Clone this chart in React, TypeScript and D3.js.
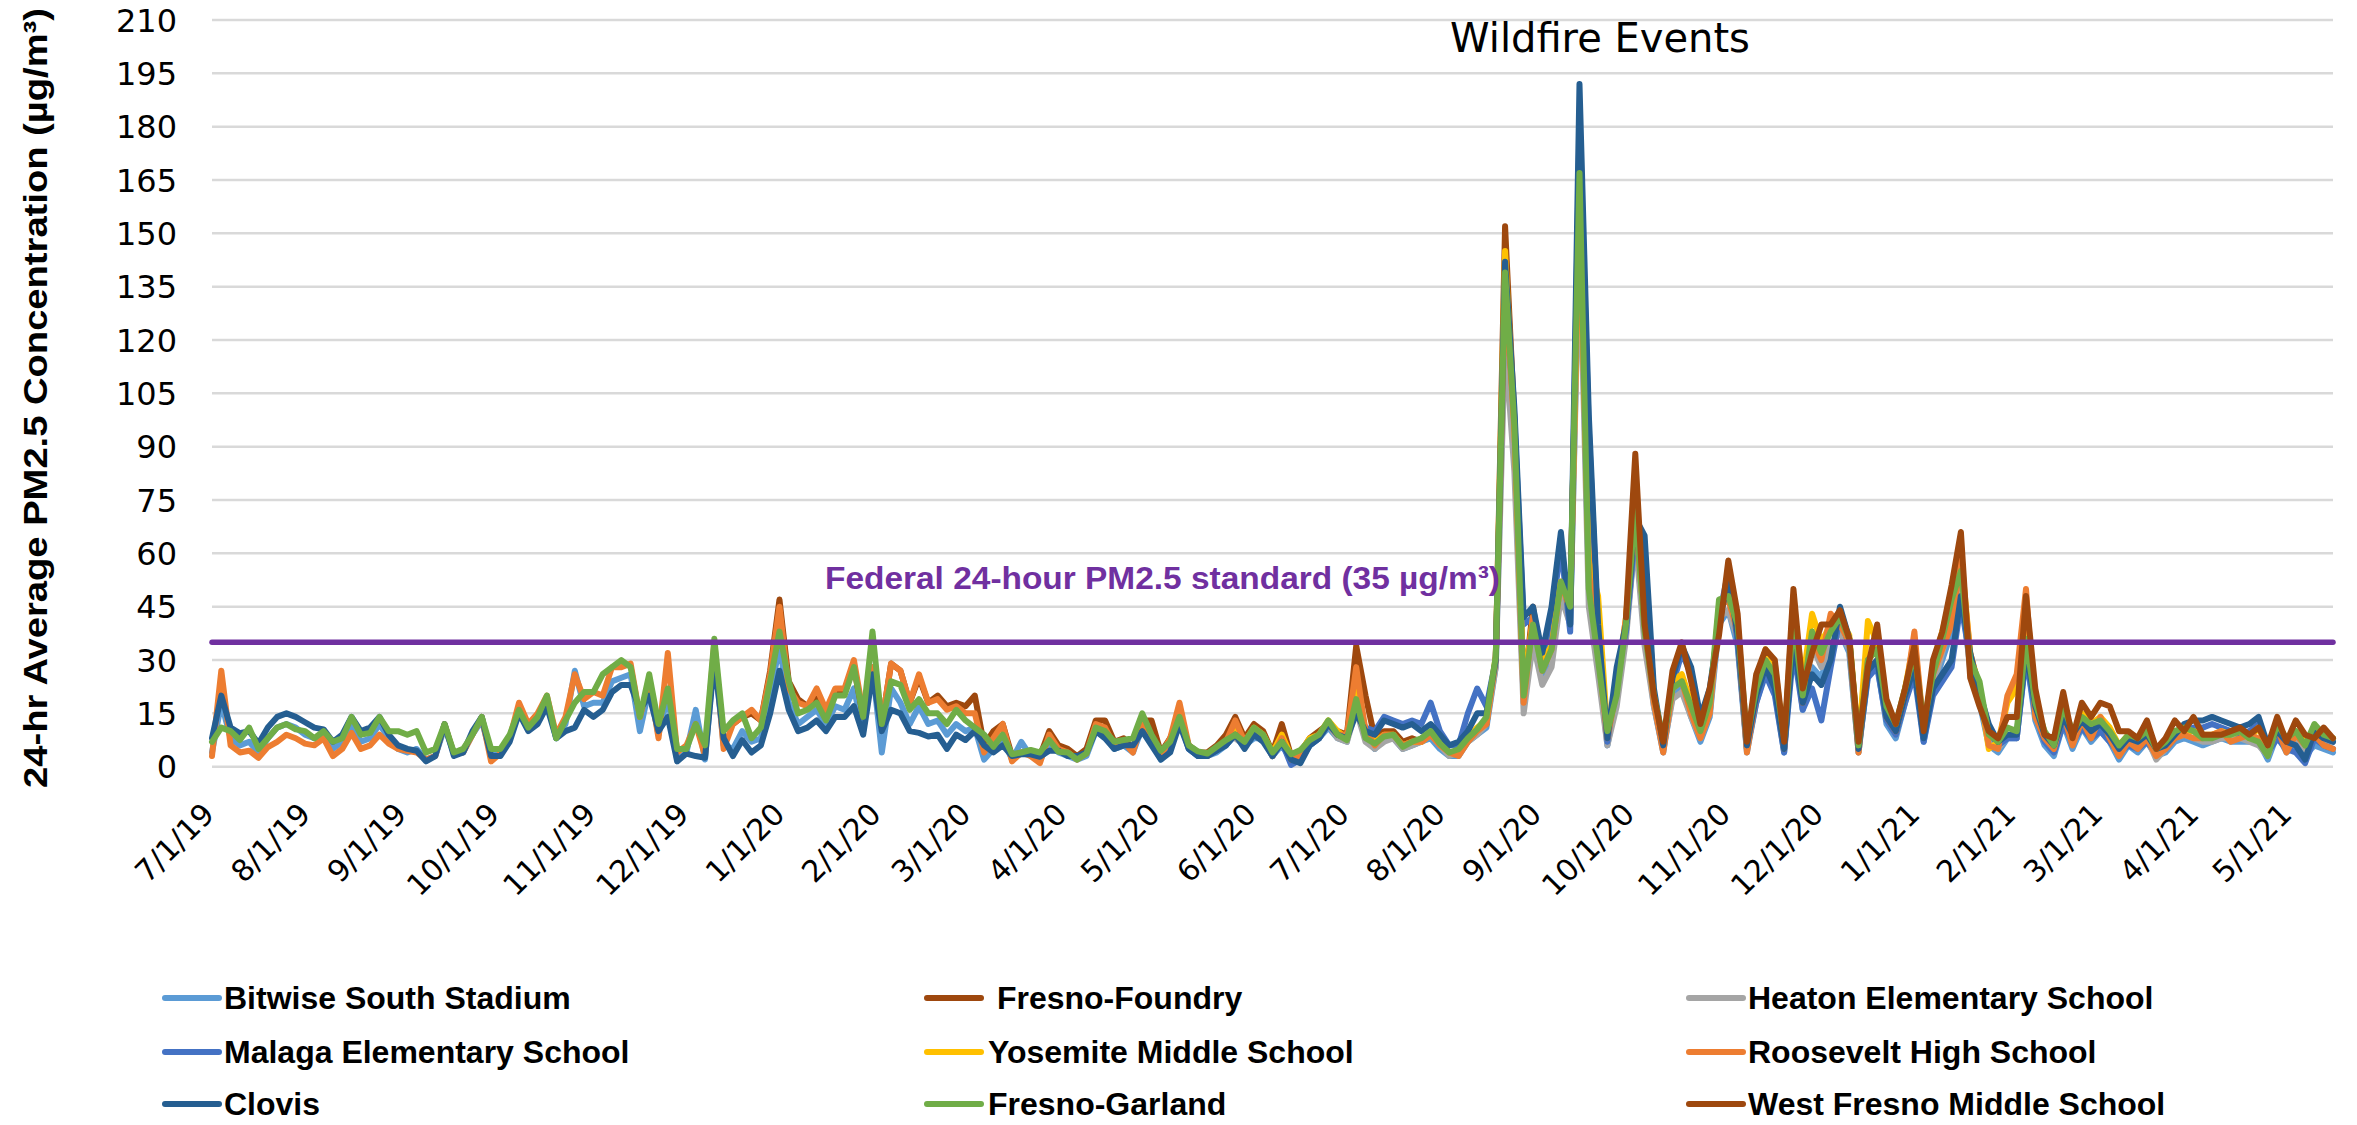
import React from 'react';
import * as d3 from 'd3';

const W = 2357;
const H = 1125;

// ---------------- data ----------------
const START_DATE = '7/1/19';
const STEP_DAYS = 3;
const LAST_DAY = 684;

const Y_TICKS = [0, 15, 30, 45, 60, 75, 90, 105, 120, 135, 150, 165, 180, 195, 210];
const X_TICK_LABELS = [
  '7/1/19', '8/1/19', '9/1/19', '10/1/19', '11/1/19', '12/1/19', '1/1/20', '2/1/20', '3/1/20',
  '4/1/20', '5/1/20', '6/1/20', '7/1/20', '8/1/20', '9/1/20', '10/1/20', '11/1/20', '12/1/20',
  '1/1/21', '2/1/21', '3/1/21', '4/1/21', '5/1/21',
];
const STANDARD = 35;
const STANDARD_LABEL = 'Federal 24-hour PM2.5 standard (35 \u00b5g/m\u00b3)';
const TITLE = 'Wildfire Events';
const Y_TITLE = '24-hr Average PM2.5 Concentration (\u00b5g/m\u00b3)';

const SERIES_NAMES = [
  'Bitwise South Stadium', ' Fresno-Foundry', 'Heaton Elementary School',
  'Malaga Elementary School', 'Yosemite Middle School', 'Roosevelt High School',
  'Clovis', 'Fresno-Garland', 'West Fresno Middle School',
];
const SERIES_COLORS = [
  '#5B9BD5', '#9E480E', '#A5A5A5',
  '#4472C4', '#FFC000', '#ED7D31',
  '#255E91', '#70AD47', '#9E480E',
];
// first day (days after START_DATE) of each series
const SERIES_START_DAY = [0, 168, 330, 300, 330, 0, 0, 0, 456];

const bitwise = [
  4, 18, 8, 6, 7, 4, 8, 11, 12, 11,
  9, 8, 9, 5, 7, 12, 7, 8, 12, 8,
  5, 4, 5, 2, 3, 11, 4, 4, 9, 13,
  3, 4, 8, 16, 11, 14, 19, 8, 12, 27,
  17, 18, 18, 24, 25, 26, 10, 22, 9, 20,
  2, 4, 16, 2, 32, 6, 5, 10, 7, 8,
  20, 34, 18, 12, 14, 16, 12, 17, 16, 22,
  10, 28, 4, 22, 18, 12, 17, 12, 13, 9,
  12, 10, 11, 2, 5, 8, 2, 7, 3, 2,
  6, 4, 3, 2, 3, 10, 9, 5, 6, 4,
  11, 7, 2, 5, 14, 5, 3, 3, 4, 6,
  9, 6, 8, 8, 3, 6, 2, 2, 6, 8,
  11, 8, 7, 22, 8, 5, 8, 8, 5, 6,
  7, 8, 5, 3, 3, 7, 9, 11, 28, 130,
  90, 18, 38, 25, 31, 50, 40, 155, 52, 30,
  6, 20, 38, 65, 38, 17, 4, 20, 22, 14,
  7, 14, 40, 44, 34, 4, 18, 27, 21, 4,
  38, 16, 28, 25, 34, 38, 32, 4, 26, 29,
  12, 8, 18, 30, 7, 22, 30, 38, 50, 28,
  18, 6, 4, 8, 8, 32, 13, 6, 3, 12,
  5, 11, 7, 10, 7, 2, 6, 4, 7, 3,
  4, 7, 8, 7, 6, 7, 8, 7, 7, 7,
  7, 2, 9, 4, 6, 3, 6, 5, 4,
];

const fresnoFoundry = [
  12, 14, 15, 13, 27, 47, 24, 19, 17, 20,
  15, 21, 21, 28, 14, 27, 12, 29, 27, 18,
  25, 18, 20, 17, 18, 17, 20, 6, 10, 12,
  3, 4, 4, 3, 10, 6, 5, 3, 5, 13,
  13, 7, 8, 5, 13, 13, 4, 8, 14, 6,
  4, 4, 6, 9, 14, 8, 12, 10, 4, 12,
  3, 4, 8, 10, 12, 10, 9, 34, 20, 8,
  10, 10, 7, 8, 7, 9, 7, 4, 4, 8,
  10, 12, 30, 152, 98, 20, 45, 28, 33, 52,
  44, 165, 58, 35, 9, 22,
];

const heaton = [
  8, 6, 10, 8, 3, 7, 3, 4, 7, 8,
  12, 8, 7, 16, 7, 5, 7, 8, 5, 6,
  7, 9, 6, 3, 4, 7, 9, 12, 28, 120,
  83, 15, 35, 23, 28, 48, 40, 150, 45, 26,
  6, 17, 36, 65, 34, 17, 5, 19, 21, 14,
  8, 15, 42, 44, 36, 5, 19, 27, 23, 5,
  38, 17, 34, 28, 34, 38, 33, 4, 27, 30,
  14, 9, 19, 29, 9, 23, 32, 43, 52, 27,
  21, 7, 5, 9, 8, 33, 16, 8, 4, 15,
  8, 12, 10, 11, 8, 4, 7, 6, 8, 2,
  5, 8, 9, 8, 7, 7, 8, 8, 8, 7,
  6, 3, 10, 6, 8, 5, 10, 7, 7,
];

const malaga = [
  11, 7, 3, 5, 13, 5, 3, 3, 5, 6,
  10, 6, 9, 8, 3, 7, 0.5, 2, 6, 8,
  12, 9, 8, 17, 11, 10, 14, 13, 12, 13,
  12, 18, 10, 6, 6, 15, 22, 17, 30, 135,
  98, 40, 42, 30, 42, 62, 38, 180, 95, 38,
  7, 26, 38, 66, 60, 20, 5, 23, 32, 26,
  13, 20, 42, 55, 35, 5, 18, 26, 20, 4,
  33, 16, 22, 13, 28, 42, 34, 5, 25, 28,
  13, 9, 18, 26, 7, 20, 24, 28, 46, 30,
  19, 10, 6, 8, 8, 31, 15, 7, 4, 12,
  7, 11, 8, 10, 7, 4, 6, 5, 7, 4,
  5, 8, 10, 11, 11, 12, 11, 10, 9, 10,
  12, 4, 8, 5, 4, 1, 8, 6, 5,
];

const yosemite = [
  10, 7, 11, 9, 4, 9, 3, 4, 8, 9,
  13, 10, 8, 22, 10, 7, 9, 9, 6, 7,
  7, 9, 7, 4, 4, 8, 11, 13, 31, 145,
  96, 22, 42, 30, 34, 52, 45, 160, 58, 48,
  10, 23, 42, 72, 40, 20, 6, 24, 26, 18,
  10, 17, 45, 50, 40, 6, 22, 33, 29, 6,
  45, 24, 43, 35, 40, 42, 37, 6, 41, 35,
  18, 11, 22, 36, 10, 28, 38, 49, 60, 32,
  22, 5, 7, 18, 22, 46, 18, 9, 7, 17,
  9, 15, 12, 14, 11, 6, 9, 8, 11, 5,
  7, 10, 10, 10, 9, 9, 10, 9, 10, 8,
  11, 5, 13, 7, 10, 7, 9, 9, 8,
];

const roosevelt = [
  3, 27, 6, 4, 4.5, 2.5, 5.5, 7, 9, 8,
  6.5, 6, 8, 3, 5, 9.5, 5, 6, 9, 6.5,
  5, 4.5, 4, 2, 3, 12, 3.7, 4, 9, 14,
  1.5, 3.7, 8, 18, 12, 15, 20, 9, 14, 26,
  19, 21, 20, 28, 28, 29, 14, 24, 8, 32,
  4, 6, 12, 3, 35, 5, 12, 14, 16, 13,
  26, 45, 22, 18, 17, 22, 16, 22, 22, 30,
  15, 28, 12, 29, 27, 18, 26, 18, 19, 16,
  17, 15, 15, 4, 8, 12, 1.5, 4, 3, 1,
  9, 5, 4, 2, 3.7, 12, 11, 6, 7, 4,
  13, 8, 3, 8, 18, 6, 4, 3, 5, 7,
  13, 7, 10, 9, 3, 8, 2, 3, 7, 9,
  12, 9, 9, 28, 10, 6, 9, 9, 6, 7,
  7, 9, 6, 4, 3, 7, 10, 12, 30, 136,
  95, 18, 42, 27, 33, 52, 44, 160, 55, 32,
  8, 22, 42, 70, 40, 18, 4, 22, 24, 15,
  8, 15, 45, 47, 38, 4, 20, 30, 24, 5,
  48, 18, 36, 30, 43, 40, 35, 4, 30, 33,
  14, 10, 20, 38, 10, 26, 33, 40, 58, 32,
  22, 6, 5, 20, 26, 50, 14, 8, 5, 15,
  6, 13, 8, 14, 8, 3, 7, 5, 8, 3,
  5, 8, 9, 8, 8, 9, 10, 7, 8, 9,
  8, 4, 11, 4, 9, 6, 9, 6, 5,
];

const clovis = [
  8, 20, 11, 9.4, 10, 6.5, 11, 14, 15, 14,
  12.5, 11, 10.5, 7, 9, 14, 10, 11, 14, 9,
  6, 5, 4.5, 1.5, 3, 12, 3, 4, 10, 14,
  3, 3, 7, 15, 10, 12, 17, 8, 10, 11,
  16, 14, 16, 21, 23, 23, 16, 20, 10, 14,
  1.5, 3.7, 3, 2.5, 30, 8, 3, 7.5, 4, 6,
  15, 27, 16, 10, 11, 13, 10, 14, 14, 17,
  9, 26, 10, 16, 15, 10, 9.5, 8.5, 9, 5,
  9, 7.5, 10, 6, 4, 6, 3, 3.5, 3.5, 2.8,
  4.5, 4.5, 3, 3, 4, 10, 8, 5, 6, 6,
  10, 6, 2, 4, 12, 5, 3, 3, 4.5, 6,
  9, 5, 9, 7, 3, 7, 2, 1, 6, 8,
  12, 9, 8, 15, 10, 9, 13, 12, 11, 12,
  10, 12, 9, 6, 7, 10, 15, 15, 30, 142,
  101, 42, 45, 32, 45, 66, 40, 192, 99, 40,
  8, 28, 40, 70, 65, 22, 6, 25, 34, 28,
  14, 22, 40, 53, 37, 6, 20, 28, 22, 5,
  36, 18, 26, 23, 30, 45, 36, 5, 27, 30,
  14, 10, 20, 28, 8, 22, 26, 30, 48, 32,
  21, 12, 7, 9, 9, 33, 17, 9, 6, 14,
  9, 13, 10, 12, 9, 5, 8, 7, 9, 5,
  6, 9, 12, 13, 13, 14, 13, 12, 11, 12,
  14, 6, 10, 7, 6, 2, 10, 8, 7,
];

const fresnoGarland = [
  7, 11, 10, 7.5, 11, 5, 8, 11, 12, 10.5,
  10, 8, 10, 7, 8, 14, 9, 9.5, 14, 10,
  10, 9, 10, 4, 5, 12, 4, 5, 9, 14,
  5, 5, 9, 16, 11, 14, 20, 8, 13, 18,
  21, 21, 26, 28, 30, 28, 14, 26, 12, 22,
  5, 5, 12, 6, 36, 10, 13, 15, 8, 11,
  24, 38, 24, 15, 16, 18, 13, 20, 20, 28,
  14, 38, 12, 24, 23, 16, 19, 15, 15, 12,
  16, 13, 11, 9, 5.6, 9, 3.5, 4, 4.7, 4,
  7.5, 4.2, 4, 2, 3.7, 11, 10, 7, 7.5, 8,
  15, 9, 4.5, 7, 14, 6, 4.3, 3.7, 5.6, 7.5,
  9, 7, 11, 9, 4, 7, 3.5, 4.7, 7.5, 9,
  13, 9, 7.5, 19, 8, 6.5, 8.5, 9, 5.6, 7,
  8, 10, 6.5, 4, 4.9, 8, 10.5, 14, 31, 139,
  96, 20, 40, 27, 33, 52, 45, 167, 50, 30,
  10, 20, 40, 73, 38, 20, 8, 22, 24, 17,
  10, 18, 47, 48, 40, 8, 22, 30, 26, 8,
  42, 20, 38, 32, 38, 42, 36, 6, 30, 33,
  17, 12, 22, 32, 12, 26, 36, 47, 55, 30,
  24, 9, 7, 11, 10, 36, 18, 10, 6, 17,
  10, 14, 12, 13, 10, 6, 9, 8, 10, 5,
  7, 10, 11, 10, 8, 8, 9, 9, 10, 8,
  7, 3, 12, 8, 10, 6, 12, 9, 8,
];

const westFresno = [
  42, 88, 40, 20, 7, 27, 35, 24, 12, 22,
  37, 58, 43, 7, 26, 33, 30, 7, 50, 22,
  32, 40, 40, 44, 36, 7, 28, 40, 19, 12,
  22, 34, 10, 30, 38, 51, 66, 25, 17, 10,
  8, 14, 14, 48, 22, 9, 8, 21, 8, 18,
  14, 18, 17, 10, 10, 8, 13, 5, 8, 13,
  10, 14, 9, 9, 9, 10, 11, 9, 11, 6,
  14, 7, 13, 9, 8, 11, 8,
];

const SERIES_VALUES = [
  bitwise, fresnoFoundry, heaton, malaga, yosemite, roosevelt, clovis, fresnoGarland, westFresno,
];

// ---------------- layout ----------------
const PLOT_LEFT = 212;
const PLOT_RIGHT = 2333;
const PLOT_TOP = 20;
const PLOT_BOTTOM = 766.7;
const FONT_TICK = "'DejaVu Sans', Verdana, sans-serif";
const FONT_BOLD = "'Liberation Sans', Arial, sans-serif";

const parseDate = (s: string) => {
  const [m, d, y] = s.split('/').map(Number);
  return new Date(2000 + y, m - 1, d);
};

export default function App() {
  const t0 = parseDate(START_DATE);
  const x = d3
    .scaleTime()
    .domain([t0, d3.timeDay.offset(t0, LAST_DAY)])
    .range([PLOT_LEFT, PLOT_RIGHT]);
  const y = d3.scaleLinear().domain([0, 210]).range([PLOT_BOTTOM, PLOT_TOP]);

  const seriesPoints = SERIES_VALUES.map((vals, s) =>
    vals.map((v, i) => ({ date: d3.timeDay.offset(t0, SERIES_START_DAY[s] + i * STEP_DAYS), v }))
  );

  const line = d3
    .line<{ date: Date; v: number }>()
    .defined((p) => p.v != null)
    .x((p) => x(p.date))
    .y((p) => y(p.v));

  const xTicks = X_TICK_LABELS.map((l) => ({ label: l, date: parseDate(l) }));

  const legendColX = [165, 927, 1689];
  const legendTextX = [224, 988, 1748];
  const legendRowY = [998, 1052, 1104];

  return (
    <svg
      width={W}
      height={H}
      viewBox={`0 0 ${W} ${H}`}
      style={{ position: 'absolute', left: 0, top: 0, background: '#fff' }}
    >
      <rect x={0} y={0} width={W} height={H} fill="#fff" />
      {Y_TICKS.map((t) => (
        <line
          key={'g' + t}
          x1={PLOT_LEFT}
          x2={PLOT_RIGHT}
          y1={y(t)}
          y2={y(t)}
          stroke="#d9d9d9"
          strokeWidth={2.5}
        />
      ))}
      {Y_TICKS.map((t) => (
        <text
          key={'yl' + t}
          x={177}
          y={y(t) + 11.5}
          textAnchor="end"
          fontFamily={FONT_TICK}
          fontSize={32}
          fill="#000"
        >
          {t}
        </text>
      ))}
      {xTicks.map((t) => (
        <text
          key={'xl' + t.label}
          transform={`translate(${x(t.date) + 4},${816}) rotate(-45)`}
          textAnchor="end"
          fontFamily={FONT_TICK}
          fontSize={30}
          fill="#000"
        >
          {t.label}
        </text>
      ))}
      <text
        transform={`translate(47,${398}) rotate(-90)`}
        textAnchor="middle"
        fontFamily={FONT_BOLD}
        fontWeight="bold"
        fontSize={34}
        textLength={780}
        lengthAdjust="spacingAndGlyphs"
        fill="#000"
      >
        {Y_TITLE}
      </text>
      {seriesPoints.map((pts, s) => (
        <path
          key={'s' + s}
          d={line(pts) || ''}
          fill="none"
          stroke={SERIES_COLORS[s]}
          strokeWidth={6}
          strokeLinejoin="round"
          strokeLinecap="round"
        />
      ))}
      <line
        x1={PLOT_LEFT}
        x2={PLOT_RIGHT}
        y1={y(STANDARD)}
        y2={y(STANDARD)}
        stroke="#7030A0"
        strokeWidth={5.5}
        strokeLinecap="round"
      />
      <text
        x={825}
        y={589}
        fontFamily={FONT_BOLD}
        fontWeight="bold"
        fontSize={32}
        textLength={675}
        lengthAdjust="spacingAndGlyphs"
        fill="#7030A0"
      >
        {STANDARD_LABEL}
      </text>
      <text x={1600} y={52} textAnchor="middle" fontFamily={FONT_TICK} fontSize={40} fill="#000">
        {TITLE}
      </text>
      {SERIES_NAMES.map((name, i) => {
        const col = i % 3;
        const row = Math.floor(i / 3);
        const ly = legendRowY[row];
        return (
          <g key={'lg' + i}>
            <line
              x1={legendColX[col]}
              x2={legendColX[col] + 54}
              y1={ly}
              y2={ly}
              stroke={SERIES_COLORS[i]}
              strokeWidth={6}
              strokeLinecap="round"
            />
            <text
              x={legendTextX[col]}
              y={ly + 11}
              fontFamily={FONT_BOLD}
              fontWeight="bold"
              fontSize={32}
              fill="#000"
              style={{ whiteSpace: 'pre' }}
            >
              {name}
            </text>
          </g>
        );
      })}
    </svg>
  );
}
